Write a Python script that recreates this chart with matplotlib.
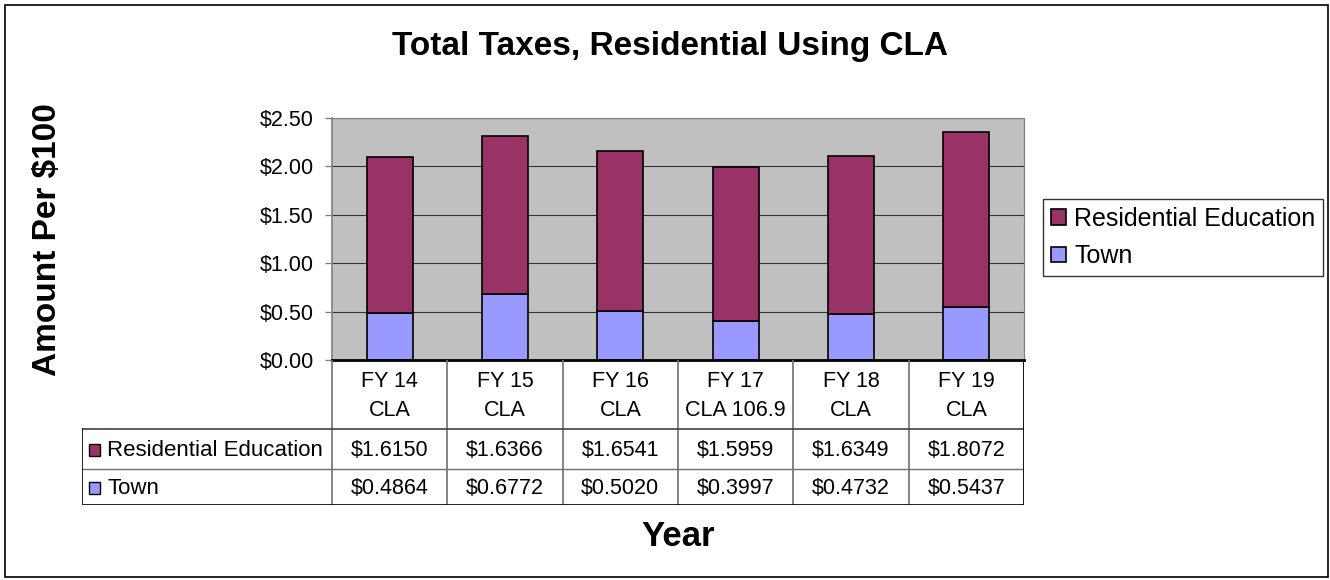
import matplotlib.pyplot as plt
from matplotlib.patches import Rectangle

plt.rcParams['font.family'] = ['Liberation Sans', 'DejaVu Sans']

years = ["FY 14\nCLA", "FY 15\nCLA", "FY 16\nCLA", "FY 17\nCLA 106.9", "FY 18\nCLA", "FY 19\nCLA"]
town = [0.4864, 0.6772, 0.5020, 0.3997, 0.4732, 0.5437]
education = [1.6150, 1.6366, 1.6541, 1.5959, 1.6349, 1.8072]
series = ["Residential Education", "Town"]
colors = {"Residential Education": "#993366", "Town": "#9999FF"}

W, H = 1330, 580
fig = plt.figure(figsize=(W / 100, H / 100), dpi=100)

# outer chart border
fig.patches.append(Rectangle((5 / W, 3 / H), 1323 / W, 572 / H, transform=fig.transFigure,
                             fill=False, edgecolor='black', linewidth=1.2))

# plot area
ax = fig.add_axes([332 / W, (H - 360) / H, 692 / W, 242 / H])
ax.set_facecolor('#C0C0C0')
n = len(years)
x = [i + 0.5 for i in range(n)]
ax.bar(x, town, width=0.4, color=colors["Town"], edgecolor='black', linewidth=1.2,
       label="Town", zorder=3)
ax.bar(x, education, width=0.4, bottom=town, color=colors["Residential Education"],
       edgecolor='black', linewidth=1.2, label="Residential Education", zorder=3)
ax.set_xlim(0, n)
ax.set_ylim(0, 2.5)
ax.set_yticks([0, 0.5, 1.0, 1.5, 2.0, 2.5])
ax.set_yticklabels(["$%.2f" % v for v in [0, 0.5, 1.0, 1.5, 2.0, 2.5]], fontsize=15.5)
ax.set_xticks([])
ax.yaxis.grid(True, color='#333333', linewidth=0.8, zorder=1)
ax.set_axisbelow(True)
ax.tick_params(axis='y', length=5, width=1, color='#808080', pad=8)
for s in ['top', 'right']:
    ax.spines[s].set_color('#808080')
ax.spines['left'].set_color('#808080')
ax.spines['left'].set_linewidth(1.2)
ax.spines['bottom'].set_linewidth(2)
ax.spines['bottom'].set_zorder(5)

# data table under the plot, columns share the plot's x scale
lab_w = (332 - 82) / (692 / n)
tab = fig.add_axes([82 / W, (H - 505) / H, (1024 - 82) / W, 145 / H])
tab.set_xlim(-lab_w, n)
tab.set_ylim(0, 1)
tab.axis('off')
r_head, r_edu = 76 / 145, 36 / 145
grey = '#707070'
for i in range(n + 1):
    tab.plot([i, i], [0, 1], color=grey, linewidth=1.2)
tab.plot([-lab_w, n], [r_head, r_head], color='#404040', linewidth=1.2)
tab.plot([-lab_w, n], [r_edu, r_edu], color=grey, linewidth=1)
tab.plot([-lab_w, n], [0, 0], color='black', linewidth=1.2)
tab.plot([-lab_w, -lab_w], [0, r_head], color='black', linewidth=1.2)
tab.plot([n, n], [0, 1], color='black', linewidth=1.2)
for i, lab in enumerate(years):
    tab.text(i + 0.5, (1 + r_head) / 2 - 0.01, lab, ha='center', va='center', fontsize=15.5,
             linespacing=1.5)
rows = [("Residential Education", education, (r_head + r_edu) / 2),
        ("Town", town, r_edu / 2)]
for name, vals, yc in rows:
    for i, v in enumerate(vals):
        tab.text(i + 0.5, yc - 0.01, "$%.4f" % v, ha='center', va='center', fontsize=15.5)
    tab.add_patch(Rectangle((-lab_w + 0.06, yc - 0.05), 0.1, 0.085, facecolor=colors[name],
                            edgecolor='black', linewidth=1, clip_on=False))
    tab.text(-lab_w + 0.22, yc - 0.01, name, ha='left', va='center', fontsize=16)

# titles
fig.text(670 / W, 1 - 46 / H, "Total Taxes, Residential Using CLA", ha='center', va='center',
         fontsize=24, fontweight='bold')
fig.text(48 / W, 1 - 240 / H, "Amount Per $100", ha='center', va='center', rotation=90,
         fontsize=24, fontweight='bold')
fig.text(678 / W, 1 - 536 / H, "Year", ha='center', va='center', fontsize=25, fontweight='bold')

# legend
handles, labels = ax.get_legend_handles_labels()
leg = fig.legend(handles[::-1], labels[::-1], loc='upper left',
                 bbox_to_anchor=(1043 / W, 1 - 199 / H), fontsize=18, frameon=True,
                 fancybox=False, handlelength=0.6, handleheight=0.6, handletextpad=0.35,
                 borderpad=0.3, labelspacing=0.55, borderaxespad=0)
leg.get_frame().set_edgecolor('black')
leg.get_frame().set_linewidth(1)

fig.savefig("out.png", dpi=100)
